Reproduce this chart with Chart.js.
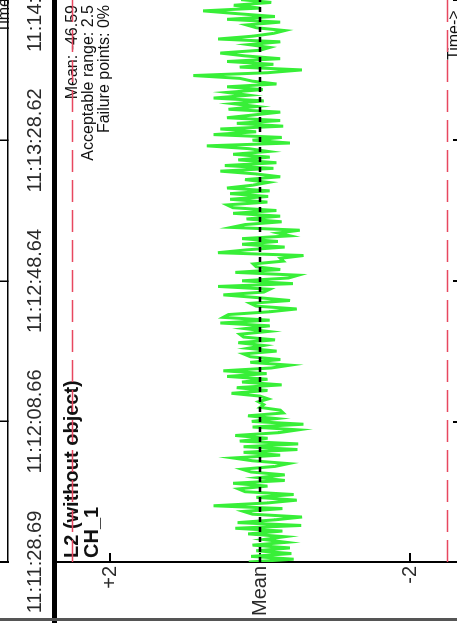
<!DOCTYPE html>
<html>
<head>
<meta charset="utf-8">
<script src="https://cdn.jsdelivr.net/npm/chart.js@4.4.0/dist/chart.umd.min.js"></script>
<style>
html, body { margin: 0; padding: 0; background: #fff; overflow: hidden; width: 457px; height: 623px; }
/* the figure is drawn upright, then turned a quarter to the left */
#frame { position: absolute; left: 0; top: 0; width: 623px; height: 457px; overflow: hidden; background: #fff;
  transform-origin: 0 0; transform: translate(0, 623px) rotate(-90deg); }
#upperBox { position: absolute; left: 0; top: -45px; width: 700px; height: 100px; }
#lowerBox { position: absolute; left: 0; top: 0; width: 700px; height: 510px; }
#sep { position: absolute; left: 0; top: 52px; width: 623px; height: 5px; background: #000; }
#edge { position: absolute; left: 2px; top: 0; width: 3px; height: 457px; background: #555; }
</style>
</head>
<body>
<div id="frame">
  <div id="upperBox"><canvas id="upperChart" width="700" height="100"></canvas></div>
  <div id="lowerBox"><canvas id="lowerChart" width="700" height="510"></canvas></div>
  <div id="sep"></div>
  <div id="edge"></div>
</div>
<script>
'use strict';

var fontFamily = 'Arial, "Liberation Sans", sans-serif';

// time axis (seconds after 11:11:28.69)
var sampleStep = 0.8;
var timeMax = 181.8;
var timeTickSeconds = [0, 39.97, 79.95, 119.93, 159.91];
var timeTickLabels = ['11:11:28.69', '11:12:08.66', '11:12:48.64', '11:13:28.62', '11:14:08.60'];

// value axis (deviation from mean)
var valueTicks = [2, 0, -2];
var valueTickLabels = ['+2', 'Mean', '-2'];
var limitValue = 2.5;

// CH_1 minus its mean, one value per sample
var deviation = [
    0.15, -0.45, 0.12, -0.42, 0.05, -0.40, 0.10, -0.35, -0.05, -0.33,
    0.16, -0.30, 0.33, -0.55, 0.30, -0.20, -0.56, 0.10, 0.22, -0.30,
    0.62, -0.10, -0.49, 0.05, -0.45, 0.20, 0.29, -0.10, 0.36, -0.33,
    0.02, -0.33, 0.12, 0.24, -0.20, -0.38, 0.10, 0.36, -0.27, 0.22,
    -0.50, 0.22, -0.51, 0.27, -0.10, 0.33, -0.25, -0.51, 0.10, -0.58,
    0.11, -0.22, 0.16, -0.31, -0.27, 0.00, -0.05, 0.02, -0.11, 0.00,
    0.38, -0.10, 0.31, -0.29, 0.24, -0.10,
    0.44, -0.09, 0.49, -0.15, -0.40, 0.13, -0.27, 0.13, 0.22, -0.22,
    0.16, -0.05, 0.29, -0.20, 0.22, 0.27, -0.11, 0.20, -0.13, 0.53,
    -0.13, 0.49, 0.42, -0.13, -0.49, 0.05, 0.13, -0.40, 0.02, 0.49,
    -0.05, -0.13, 0.56, -0.44, 0.24, -0.38, -0.51, 0.33, -0.27, 0.05,
    0.09, -0.31, -0.27, -0.58, 0.56, 0.18, -0.33, 0.24, -0.24, 0.24,
    -0.40, -0.24, -0.53, 0.38, 0.20, -0.29, 0.18, -0.27, 0.36, -0.22,
    0.36, 0.44, -0.10, 0.40, -0.11,
    0.40, -0.13, 0.44, 0.10, -0.11, 0.20, -0.27, 0.05, 0.53, -0.18,
    0.47, -0.22, 0.29, -0.13, 0.36, -0.11, 0.15, 0.71, -0.40, 0.10,
    -0.29, 0.62, 0.05, 0.53, -0.31, 0.31, -0.27, 0.44, 0.08, -0.27,
    0.42, 0.04, 0.36, -0.05, 0.62, 0.15, 0.44, -0.04, 0.44, -0.22,
    0.10, 0.27, 0.89, -0.10, -0.56, 0.27, -0.18, 0.44, -0.27, 0.20,
    0.53, 0.00, -0.13, 0.15, -0.27, 0.56, 0.10, -0.18, -0.33, 0.05,
    0.18, -0.27, 0.44, -0.20, 0.30, 0.76, 0.00, 0.35, -0.15, 0.25,
    -0.20, 0.30, -0.10
];

var panelTitle = 'L2 (without object)';
var channelName = 'CH_1';
var infoLines = ['Mean: -46.59', 'Acceptable range: 2.5', 'Failure points: 0%'];
var timeTitle = 'Time->';

var limitColor = '#e8475f';
var traceColor = '#38ef38';

Chart.defaults.font.family = fontFamily;
Chart.defaults.animation = false;

function timeAxis(showLabels, height, lineWidth) {
    return {
        type: 'linear',
        min: 0,
        max: timeMax,
        afterBuildTicks: function (scale) {
            scale.ticks = timeTickSeconds.map(function (v) { return { value: v }; });
        },
        afterFit: function (scale) {
            scale.height = height;
            scale.paddingLeft = 0;
            scale.paddingRight = 0;
        },
        ticks: {
            display: showLabels,
            autoSkip: false,
            maxRotation: 0,
            padding: 23,
            color: '#2a2a2a',
            font: { size: 20 },
            callback: function (v, i) { return timeTickLabels[i]; }
        },
        grid: { drawOnChartArea: false, tickLength: -8, color: '#000', lineWidth: lineWidth },
        border: { color: '#000', width: lineWidth }
    };
}

// panel above: only its time axis shows
var upperText = {
    id: 'upperText',
    afterDraw: function (chart) {
        var ctx = chart.ctx;
        ctx.save();
        ctx.fillStyle = '#111';
        ctx.font = '16px ' + fontFamily;
        ctx.textAlign = 'left';
        ctx.textBaseline = 'alphabetic';
        ctx.fillText(timeTitle, 590, chart.chartArea.bottom + 1);
        ctx.restore();
    }
};

new Chart(document.getElementById('upperChart'), {
    type: 'scatter',
    data: { datasets: [] },
    options: {
        responsive: false,
        layout: { padding: 0 },
        plugins: { legend: { display: false }, tooltip: { enabled: false } },
        scales: {
            x: timeAxis(true, 47, 1.5),
            y: {
                min: 0,
                max: 1,
                ticks: { display: false },
                grid: { drawOnChartArea: false, drawTicks: false },
                border: { color: '#000', width: 2 },
                afterFit: function (scale) { scale.width = 61; }
            }
        }
    },
    plugins: [upperText]
});

var lowerText = {
    id: 'lowerText',
    beforeDatasetsDraw: function (chart) {
        var ctx = chart.ctx;
        var area = chart.chartArea;
        ctx.save();
        ctx.fillStyle = '#111';
        ctx.textBaseline = 'alphabetic';

        ctx.textAlign = 'left';
        ctx.font = 'bold 20px ' + fontFamily;
        ctx.fillText(panelTitle, area.left + 4, 78);
        ctx.fillText(channelName, area.left + 4, 98);

        ctx.textAlign = 'right';
        ctx.font = '16px ' + fontFamily;
        infoLines.forEach(function (line, i) {
            ctx.fillText(line, 618, 77 + i * 16);
        });

        ctx.textAlign = 'left';
        ctx.fillText(timeTitle, 563, area.bottom - 2);
        ctx.restore();
    }
};

var trace = deviation.map(function (v, i) { return { x: i * sampleStep, y: v }; });

function flatLine(y) {
    return [{ x: 0, y: y }, { x: timeMax, y: y }];
}

new Chart(document.getElementById('lowerChart'), {
    type: 'scatter',
    data: {
        datasets: [
            {
                label: 'Mean',
                data: flatLine(0),
                showLine: true,
                borderColor: '#000',
                borderWidth: 2.5,
                borderDash: [5, 5],
                pointRadius: 0,
                order: 0
            },
            {
                label: channelName,
                data: trace,
                showLine: true,
                borderColor: traceColor,
                borderWidth: 3,
                pointRadius: 0,
                tension: 0,
                order: 1
            },
            {
                label: 'Upper limit',
                data: flatLine(limitValue),
                showLine: true,
                borderColor: limitColor,
                borderWidth: 1.5,
                borderDash: [22, 8],
                pointRadius: 0,
                order: 2
            },
            {
                label: 'Lower limit',
                data: flatLine(-limitValue),
                showLine: true,
                borderColor: limitColor,
                borderWidth: 1.5,
                borderDash: [22, 8],
                pointRadius: 0,
                order: 2
            }
        ]
    },
    options: {
        responsive: false,
        layout: { padding: { top: 55, left: 0, right: 0, bottom: 0 } },
        plugins: { legend: { display: false }, tooltip: { enabled: false } },
        scales: {
            x: timeAxis(false, 49, 2),
            y: {
                type: 'linear',
                min: -2.68,
                max: 2.7333,
                afterBuildTicks: function (scale) {
                    scale.ticks = valueTicks.map(function (v) { return { value: v }; });
                },
                afterFit: function (scale) { scale.width = 61; },
                ticks: {
                    padding: 13,
                    color: '#2a2a2a',
                    font: { size: 20 },
                    callback: function (v, i) { return valueTickLabels[i]; }
                },
                grid: { drawOnChartArea: false, tickLength: -9, color: '#000', lineWidth: 2 },
                border: { color: '#000', width: 2 }
            }
        }
    },
    plugins: [lowerText]
});
</script>
</body>
</html>
